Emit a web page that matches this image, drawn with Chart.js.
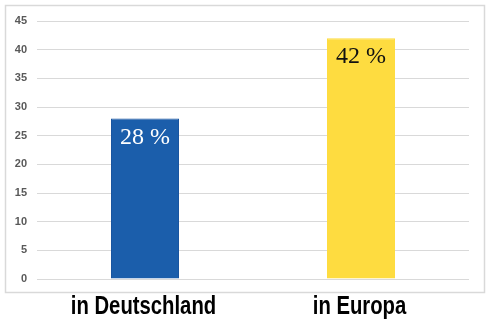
<!DOCTYPE html>
<html>
<head>
<meta charset="utf-8">
<script src="https://cdn.jsdelivr.net/npm/chart.js@4/dist/chart.umd.min.js"></script>
<style>
html,body{margin:0;padding:0;background:#fff;}
#wrap{position:relative;width:494px;height:322px;}
</style>
</head>
<body>
<div id="wrap"><canvas id="c" width="494" height="322"></canvas></div>
<script>
const categories = ["in Deutschland", "in Europa"];
const values = [28, 42];
const valueLabels = ["28 %", "42 %"];
const yTicks = [0, 5, 10, 15, 20, 25, 30, 35, 40, 45];

const barColors = ["#1b5eab", "#fedc40"];
const labelColors = ["#ffffff", "#111111"];

const borderPlugin = {
  id: 'frame',
  beforeDraw(chart) {
    const ctx = chart.ctx;
    ctx.save();
    ctx.fillStyle = '#fff';
    ctx.fillRect(0, 0, chart.width, chart.height);
    ctx.strokeStyle = '#d9d9d9';
    ctx.lineWidth = 1.5;
    ctx.strokeRect(5.5, 5.5, 479, 287);
    ctx.restore();
  }
};

const valueLabelPlugin = {
  id: 'valueLabels',
  afterDatasetsDraw(chart) {
    const ctx = chart.ctx;
    const meta = chart.getDatasetMeta(0);
    ctx.save();
    ctx.font = '24px "Liberation Serif", "Times New Roman", serif';
    ctx.textAlign = 'center';
    ctx.textBaseline = 'middle';
    meta.data.forEach((bar, i) => {
      ctx.fillStyle = labelColors[i];
      ctx.fillText(valueLabels[i], bar.x, bar.y + 19);
    });
    ctx.restore();
  }
};

// Condensed bold category labels (narrow font emulated by horizontal scaling)
const categoryLabelPlugin = {
  id: 'categoryLabels',
  afterDraw(chart) {
    const ctx = chart.ctx;
    const xs = chart.scales.x;
    ctx.save();
    ctx.font = 'bold 26px "Liberation Sans", Arial, sans-serif';
    ctx.fillStyle = '#000';
    ctx.textAlign = 'center';
    ctx.textBaseline = 'alphabetic';
    categories.forEach((lab, i) => {
      const cx = xs.getPixelForValue(i) - 1.5;
      ctx.save();
      ctx.translate(cx, 314);
      ctx.scale(0.78, 1);
      ctx.fillText(lab, 0, 0);
      ctx.restore();
    });
    ctx.restore();
  }
};

new Chart(document.getElementById('c'), {
  type: 'bar',
  data: {
    labels: categories,
    datasets: [{
      data: values,
      backgroundColor: barColors,
      borderColor: ["#1a55a0", "#fedc40"],
      borderWidth: 1,
      barPercentage: 0.315,
      categoryPercentage: 1.0
    }]
  },
  options: {
    responsive: false,
    animation: false,
    devicePixelRatio: 1,
    layout: { padding: { top: 21, right: 25, left: 0, bottom: 0 } },
    plugins: { legend: { display: false }, tooltip: { enabled: false } },
    scales: {
      x: {
        grid: { display: false, drawTicks: false },
        border: { display: false },
        ticks: { display: false },
        afterFit(scale) { scale.height = 43; }
      },
      y: {
        min: 0,
        max: 45,
        afterBuildTicks(scale) { scale.ticks = yTicks.map(v => ({ value: v })); },
        grid: { color: '#d9d9d9', lineWidth: 1, drawTicks: false },
        border: { display: false },
        ticks: {
          color: '#595959',
          padding: 10,
          font: { family: '"Liberation Sans", Arial, sans-serif', size: 11, weight: 'bold' }
        },
        afterFit(scale) { scale.width = 37; }
      }
    }
  },
  plugins: [borderPlugin, valueLabelPlugin, categoryLabelPlugin]
});
</script>
</body>
</html>
